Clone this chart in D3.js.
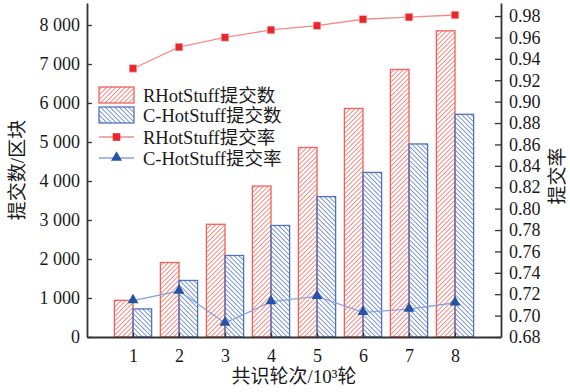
<!DOCTYPE html>
<html>
<head>
<meta charset="utf-8">
<script src="https://cdn.jsdelivr.net/npm/d3@7/dist/d3.min.js"></script>
<style>
  html, body { margin: 0; padding: 0; background: #fff; }
  svg { display: block; }
  text { font-family: "Liberation Serif", "Noto Sans CJK SC", serif; fill: #1a1a1a; }
</style>
</head>
<body>
<svg id="chart" width="570" height="392"></svg>
<script>
// Consensus rounds (x 10^3)
const rounds = ["1", "2", "3", "4", "5", "6", "7", "8"];
// Committed blocks per protocol
const rCommits = [940, 1910, 2890, 3870, 4860, 5860, 6860, 7850];
const cCommits = [720, 1450, 2090, 2860, 3600, 4220, 4950, 5710];
// Commit rates per protocol
const rRate = [0.931, 0.951, 0.960, 0.967, 0.971, 0.977, 0.979, 0.981];
const cRate = [0.714, 0.723, 0.693, 0.713, 0.718, 0.703, 0.706, 0.712];
// Axis ticks
const leftTicks = [0, 1000, 2000, 3000, 4000, 5000, 6000, 7000, 8000];
const rightTicks = [0.68, 0.70, 0.72, 0.74, 0.76, 0.78, 0.80, 0.82, 0.84, 0.86, 0.88, 0.90, 0.92, 0.94, 0.96, 0.98];
const seriesNames = ["RHotStuff提交数", "C-HotStuff提交数", "RHotStuff提交率", "C-HotStuff提交率"];

const RED = "#f0625a", RED_HATCH = "#f07f78", RED_LINE = "#f28c86", RED_MARK = "#e8262b";
const BLUE = "#4f73c2", BLUE_HATCH = "#6f8bcc", BLUE_LINE = "#8aa2da", BLUE_MARK = "#2553a6";

const svg = d3.select("#chart");
const plotL = 87, plotR = 501, plotT = 3, plotB = 337;

const x = d3.scalePoint().domain(rounds).range([plotL, plotR]).padding(1);
const yL = d3.scaleLinear().domain([0, 8564]).range([plotB, plotT]);
const yR = d3.scaleLinear().domain([0.68, 0.9922]).range([plotB, plotT]);
const barW = x.step() * 0.405;

// Hatch patterns
const defs = svg.append("defs");
function hatch(id, color, angle) {
  const p = defs.append("pattern").attr("id", id)
    .attr("patternUnits", "userSpaceOnUse")
    .attr("width", 3.3).attr("height", 8)
    .attr("patternTransform", `rotate(${angle})`);
  p.append("line").attr("x1", 1.2).attr("y1", 0).attr("x2", 1.2).attr("y2", 8)
    .attr("stroke", color).attr("stroke-width", 0.9);
}
hatch("hatchR", RED_HATCH, 45);
hatch("hatchB", BLUE_HATCH, -45);

// Bars
svg.append("g").selectAll("rect").data(rounds).join("rect")
  .attr("x", d => x(d) - barW).attr("width", barW)
  .attr("y", (d, i) => yL(rCommits[i])).attr("height", (d, i) => plotB - yL(rCommits[i]))
  .attr("fill", "url(#hatchR)").attr("stroke", RED).attr("stroke-width", 1.3);
svg.append("g").selectAll("rect").data(rounds).join("rect")
  .attr("x", d => x(d)).attr("width", barW)
  .attr("y", (d, i) => yL(cCommits[i])).attr("height", (d, i) => plotB - yL(cCommits[i]))
  .attr("fill", "url(#hatchB)").attr("stroke", BLUE).attr("stroke-width", 1.3);

// Axes
function styleAxis(g) {
  g.select(".domain").attr("stroke", "#333").attr("stroke-width", 1.8);
  g.selectAll(".tick line").attr("stroke", "#333").attr("stroke-width", 1.3);
  g.selectAll(".tick text").attr("font-size", 18).attr("fill", "#1a1a1a")
    .attr("font-family", "Liberation Serif, serif");
}
const fmtThousands = v => v === 0 ? "0" : d3.format(",")(v).replace(",", "\u2005");
svg.append("g").attr("transform", `translate(${plotL},0)`)
  .call(d3.axisLeft(yL).tickValues(leftTicks).tickFormat(fmtThousands)
    .tickSizeInner(-5).tickSizeOuter(0).tickPadding(7))
  .call(styleAxis);
svg.append("g").attr("transform", `translate(${plotR},0)`)
  .call(d3.axisRight(yR).tickValues(rightTicks).tickFormat(d3.format(".2f"))
    .tickSizeInner(-6).tickSizeOuter(0).tickPadding(8))
  .call(styleAxis);
svg.append("g").attr("transform", `translate(0,${plotB})`)
  .call(d3.axisBottom(x).tickSizeInner(-4).tickSizeOuter(0).tickPadding(12))
  .call(styleAxis);

// Rate lines
const lineR = d3.line().x((d, i) => x(rounds[i])).y(d => yR(d));
svg.append("path").datum(rRate).attr("d", lineR)
  .attr("fill", "none").attr("stroke", RED_LINE).attr("stroke-width", 1.3);
svg.append("path").datum(cRate).attr("d", lineR)
  .attr("fill", "none").attr("stroke", BLUE_LINE).attr("stroke-width", 1.3);

const sq = d3.symbol().type(d3.symbolSquare).size(58);
const tri = d3.symbol().type(d3.symbolTriangle).size(52);
svg.append("g").selectAll("path").data(rRate).join("path")
  .attr("d", sq).attr("transform", (d, i) => `translate(${x(rounds[i])},${yR(d)})`)
  .attr("fill", RED_MARK).attr("stroke", "#fbd0cd").attr("stroke-width", 0.6);
svg.append("g").selectAll("path").data(cRate).join("path")
  .attr("d", tri).attr("transform", (d, i) => `translate(${x(rounds[i])},${yR(d) - 0.5})`)
  .attr("fill", BLUE_MARK);

// Axis titles
svg.append("text").attr("transform", `translate(24,${(plotT + plotB) / 2}) rotate(-90)`)
  .attr("text-anchor", "middle").attr("font-size", 19).text("提交数/区块");
svg.append("text").attr("transform", `translate(564,${(plotT + plotB) / 2 + 6}) rotate(-90)`)
  .attr("text-anchor", "middle").attr("font-size", 19).text("提交率");
svg.append("text").attr("x", (plotL + plotR) / 2).attr("y", 383)
  .attr("text-anchor", "middle").attr("font-size", 19).text("共识轮次/10³轮");

// Legend
const lg = svg.append("g").attr("transform", "translate(99,0)");
const rowsY = [95, 115, 137, 158];
lg.append("rect").attr("x", 0).attr("y", rowsY[0] - 8).attr("width", 35).attr("height", 16)
  .attr("fill", "url(#hatchR)").attr("stroke", RED).attr("stroke-width", 1.3);
lg.append("rect").attr("x", 0).attr("y", rowsY[1] - 8).attr("width", 35).attr("height", 16)
  .attr("fill", "url(#hatchB)").attr("stroke", BLUE).attr("stroke-width", 1.3);
lg.append("line").attr("x1", 0).attr("x2", 35).attr("y1", rowsY[2]).attr("y2", rowsY[2])
  .attr("stroke", RED_LINE).attr("stroke-width", 1.3);
lg.append("path").attr("d", sq).attr("transform", `translate(17.5,${rowsY[2]})`)
  .attr("fill", RED_MARK);
lg.append("line").attr("x1", 0).attr("x2", 35).attr("y1", rowsY[3]).attr("y2", rowsY[3])
  .attr("stroke", BLUE_LINE).attr("stroke-width", 1.3);
lg.append("path").attr("d", tri).attr("transform", `translate(17.5,${rowsY[3] - 0.5})`)
  .attr("fill", BLUE_MARK);
lg.selectAll("text.lbl").data(seriesNames).join("text").attr("class", "lbl")
  .attr("x", 44).attr("y", (d, i) => rowsY[i] + 6.5)
  .attr("font-size", 18.5).text(d => d);
</script>
</body>
</html>
